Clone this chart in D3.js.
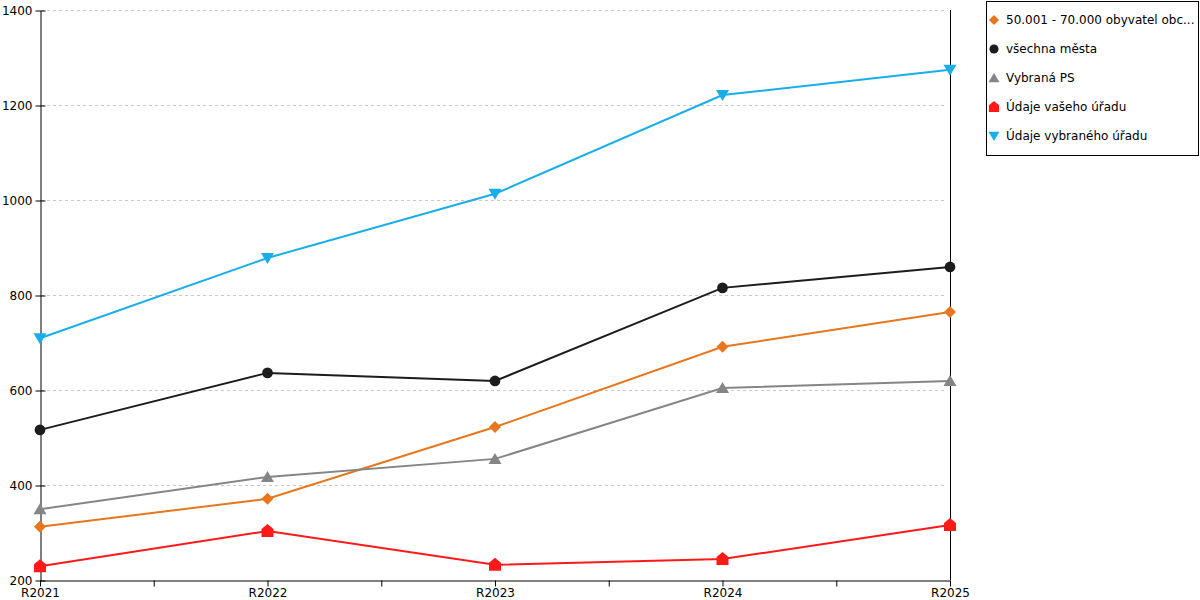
<!DOCTYPE html>
<html>
<head>
<meta charset="utf-8">
<script src="https://cdn.jsdelivr.net/npm/d3@7"></script>
<style>
  body { margin: 0; background: #fff; }
  svg { display: block; font-family: "DejaVu Sans", Verdana, sans-serif; }
</style>
</head>
<body>
<svg id="chart" width="1200" height="600"></svg>
<script>
// years on the x axis
const years = ["R2021", "R2022", "R2023", "R2024", "R2025"];
const yTicks = [200, 400, 600, 800, 1000, 1200, 1400];

// series
const obyvatel = [312, 371, 522, 691, 764];
const vsechnaMesta = [516, 636, 619, 815, 859];
const vybranaPS = [349, 417, 455, 604, 619];
const vasUrad = [229, 303, 232, 244, 316];
const vybranyUrad = [709, 878, 1013, 1221, 1274];

const seriesNames = ["50.001 - 70.000 obyvatel obc...", "všechna města", "Vybraná PS", "Údaje vašeho úřadu", "Údaje vybraného úřadu"];

const series = [
  { name: seriesNames[0], values: obyvatel, color: "#e8761c", shape: "diamond" },
  { name: seriesNames[1], values: vsechnaMesta, color: "#1c1c1c", shape: "circle" },
  { name: seriesNames[2], values: vybranaPS, color: "#858585", shape: "up" },
  { name: seriesNames[3], values: vasUrad, color: "#ff1a1a", shape: "house" },
  { name: seriesNames[4], values: vybranyUrad, color: "#19aeea", shape: "down" }
];

const svg = d3.select("#chart");
const plotLeft = 40, plotRight = 950, plotTop = 10, plotBottom = 580;

let x = d3.scalePoint().domain(years).range([plotLeft, plotRight]);
let y = d3.scaleLinear().domain([200, 1400]).range([plotBottom, plotTop]);

// marker paths centred on 0,0
function markerPath(shape) {
  if (shape === "diamond") return "M0,-6L6,0L0,6L-6,0Z";
  if (shape === "circle") return d3.symbol(d3.symbolCircle, 90)();
  if (shape === "up") return "M0,-6L6.5,5L-6.5,5Z";
  if (shape === "down") return "M0,6L6.5,-5L-6.5,-5Z";
  if (shape === "house") return "M0,-7L6,-2L6,6L-6,6L-6,-2Z";
}

// dashed grid
svg.append("g")
  .selectAll("line")
  .data(yTicks.slice(1))
  .enter()
  .append("line")
    .attr("x1", plotLeft + 1)
    .attr("x2", plotRight - 4)
    .attr("y1", d => y(d) + 0.5)
    .attr("y2", d => y(d) + 0.5)
    .attr("stroke", "#c8c8c8")
    .attr("stroke-dasharray", "3,3");

// right edge line
svg.append("line")
  .attr("x1", plotRight + 0.5).attr("x2", plotRight + 0.5)
  .attr("y1", plotTop).attr("y2", plotBottom)
  .attr("stroke", "#000");

// y axis
let yAxis = d3.axisLeft(y).tickValues(yTicks).tickFormat(d3.format("d")).tickSize(5).tickSizeOuter(0);
svg.append("g")
  .attr("transform", "translate(" + (plotLeft + 0.5) + ",0.5)")
  .call(yAxis)
  .call(g => g.selectAll("text").attr("font-size", "12px").attr("fill", "#000").attr("font-family", "DejaVu Sans"))
  .call(g => g.selectAll(".tick line").attr("x1", 5).attr("x2", -5));

// x axis with in-between ticks
let xAxis = d3.axisBottom(x).tickSize(6).tickSizeOuter(0);
let xg = svg.append("g")
  .attr("transform", "translate(0," + (plotBottom + 0.5) + ")")
  .call(xAxis);
xg.selectAll("text").attr("font-size", "12px").attr("fill", "#000").attr("font-family", "DejaVu Sans").attr("dy", "0.6em");
xg.selectAll(".tick line").attr("y2", 0);
let step = x.step();
xg.append("g")
  .selectAll("line")
  .data(years.slice(0, -1))
  .enter()
  .append("line")
    .attr("x1", d => x(d) + step / 2 + 0.5)
    .attr("x2", d => x(d) + step / 2 + 0.5)
    .attr("y1", 0).attr("y2", 6)
    .attr("stroke", "#000");
xg.selectAll(".tick").append("line").attr("y1", 0).attr("y2", 6).attr("stroke", "#000");

// lines
let line = d3.line().x((d, i) => x(years[i])).y(d => y(d));
series.forEach(s => {
  svg.append("path")
    .datum(s.values)
    .attr("d", line)
    .attr("fill", "none")
    .attr("stroke", s.color)
    .attr("stroke-width", 2);
  svg.append("g")
    .selectAll("path")
    .data(s.values)
    .enter()
    .append("path")
      .attr("d", markerPath(s.shape))
      .attr("transform", (d, i) => "translate(" + x(years[i]) + "," + y(d) + ")")
      .attr("fill", s.color);
});

// legend
let legend = svg.append("g").attr("transform", "translate(986,1)");
legend.append("rect")
  .attr("x", 0.5).attr("y", 0.5)
  .attr("width", 212).attr("height", 154)
  .attr("fill", "#fff").attr("stroke", "#000");
let items = legend.selectAll(".item")
  .data(series)
  .enter()
  .append("g")
    .attr("class", "item")
    .attr("transform", (d, i) => "translate(0," + (18 + i * 29) + ")");
items.append("path")
  .attr("d", d => markerPath(d.shape))
  .attr("transform", "translate(8,1) scale(0.85)")
  .attr("fill", d => d.color);
items.append("text")
  .attr("x", 20)
  .attr("y", 5)
  .attr("font-size", "12px")
  .text(d => d.name);
</script>
</body>
</html>
